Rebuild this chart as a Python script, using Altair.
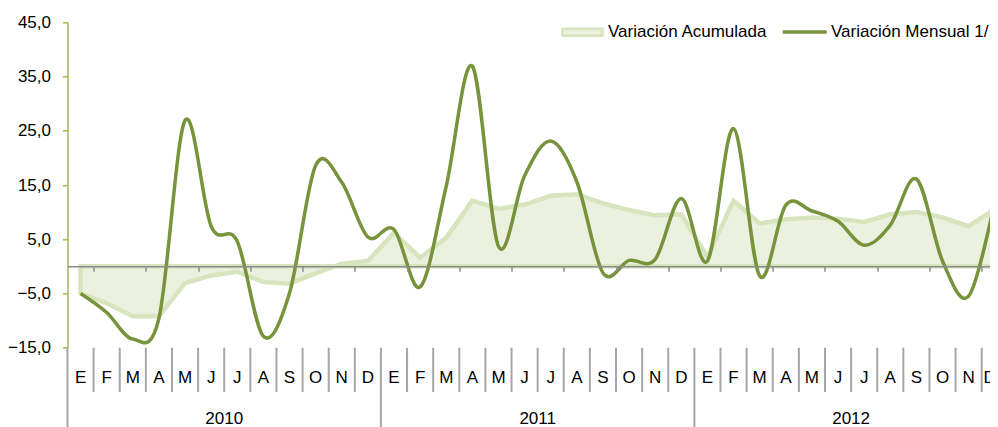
import altair as alt
import pandas as pd

month_labels = ["E", "F", "M", "A", "M", "J", "J", "A", "S", "O", "N", "D"]
years = ["2010", "2011", "2012"]

acumulada = [-5.0, -6.8, -9.2, -9.2, -3.1, -1.7, -1.0, -2.9, -3.2, -1.3, 0.5, 1.0,
             6.2, 1.6, 5.3, 12.1, 10.6, 11.4, 13.0, 13.3, 11.6, 10.4, 9.4, 9.6,
             1.7, 12.1, 7.9, 8.7, 9.0, 8.8, 8.2, 9.6, 10.0, 9.0, 7.4, 10.5]
mensual = [-5.0, -8.5, -13.4, -9.6, 26.9, 7.4, 4.6, -12.9, -4.9, 18.6, 15.5, 5.4,
           6.8, -3.8, 14.8, 36.9, 3.7, 16.7, 23.1, 15.6, -1.2, 1.1, 1.3, 12.5,
           1.0, 25.4, -1.8, 11.3, 10.2, 8.3, 3.9, 7.6, 16.1, 1.0, -5.5, 12.0]
legend_labels = ["Variación Acumulada", "Variación Mensual 1/"]

n = len(mensual)
df = pd.DataFrame({"i": list(range(n)), "acumulada": acumulada, "mensual": mensual})
month_df = pd.DataFrame({"i": list(range(n)),
                         "m": [month_labels[k % 12] for k in range(n)]})

STEP = 26.12
W = 922.5
H = 325.4
YMIN, YMAX = -15, 45
XMIN = -0.5
XMAX = XMIN + W / STEP
FONT = "Liberation Sans"
FS = 17

xscale = alt.Scale(domain=[XMIN, XMAX], nice=False, zero=False)
yscale = alt.Scale(domain=[YMIN, YMAX], nice=False, zero=False)

zero_px = (YMAX - 0) / (YMAX - YMIN) * H

year_bounds = [-0.5 + 12 * k for k in range(len(years))]
all_bounds = [i + 0.5 for i in range(n) if i + 0.5 < XMAX]
month_bounds = [b for b in all_bounds if b not in year_bounds]

xaxis = alt.Axis(values=all_bounds, labels=False, offset=zero_px - H,
                 domainColor="#8C8C8C", domainWidth=1.5, tickColor="#8C8C8C",
                 tickWidth=1.5, tickSize=5, grid=False, title=None, zindex=1)
yaxis = alt.Axis(values=[-15, -5, 5, 15, 25, 35, 45],
                 labelExpr="replace(format(datum.value, '.1f'), '.', ',')",
                 domainColor="#9BBB59", domainWidth=1.5, tickColor="#9BBB59",
                 tickWidth=1.5, tickSize=5, labelPadding=12, labelFontSize=FS,
                 labelFont=FONT, labelColor="#000000", grid=False, title=None)

area = alt.Chart(df).mark_area(fill="#EBF1DE", stroke="#D7E4BD", strokeWidth=4.5,
                               interpolate="linear").encode(
    x=alt.X("i:Q", scale=xscale, axis=xaxis),
    y=alt.Y("acumulada:Q", scale=yscale, axis=yaxis),
    y2=alt.datum(0),
)

line = alt.Chart(df).mark_line(color="#77933C", strokeWidth=3.5, interpolate="cardinal").encode(
    x=alt.X("i:Q", scale=xscale),
    y=alt.Y("mensual:Q", scale=yscale),
)

month_sep = alt.Chart(pd.DataFrame({"b": month_bounds})).mark_rule(
    color="#A6A6A6", strokeWidth=2).encode(
    x=alt.X("b:Q", scale=xscale),
    y=alt.value(H), y2=alt.value(H + 44.3),
)
year_sep = alt.Chart(pd.DataFrame({"b": year_bounds})).mark_rule(
    color="#A6A6A6", strokeWidth=2).encode(
    x=alt.X("b:Q", scale=xscale),
    y=alt.value(H), y2=alt.value(H + 90),
)

month_text = alt.Chart(month_df.iloc[:-1]).mark_text(
    fontSize=FS, font=FONT, color="#000000", baseline="alphabetic", align="center").encode(
    x=alt.X("i:Q", scale=xscale),
    y=alt.value(360.4),
    text="m:N",
)
# last month label sits at the clipped right edge (as in the original)
month_text_last = alt.Chart(month_df.iloc[[-1]]).mark_text(
    fontSize=FS, font=FONT, color="#000000", baseline="alphabetic", align="center",
    dx=-5).encode(
    x=alt.X("i:Q", scale=xscale),
    y=alt.value(360.4),
    text="m:N",
)

year_df = pd.DataFrame({"year": years, "c": [5.5 + 12 * k for k in range(len(years))]})
year_text = alt.Chart(year_df).mark_text(fontSize=FS, font=FONT, color="#000000",
                                         baseline="alphabetic", align="center").encode(
    x=alt.X("c:Q", scale=xscale),
    y=alt.value(401.7),
    text="year:N",
)

leg_df = pd.DataFrame({"label": legend_labels})
leg_swatch1 = alt.Chart(leg_df.iloc[[0]]).mark_rect(
    fill="#EBF1DE", stroke="#D7E4BD", strokeWidth=2.5).encode(
    x=alt.value(495), x2=alt.value(535), y=alt.value(6.5), y2=alt.value(13.5))
leg_swatch2 = alt.Chart(leg_df.iloc[[1]]).mark_rule(
    color="#77933C", strokeWidth=3.5).encode(
    x=alt.value(715.2), x2=alt.value(759.2), y=alt.value(9.6))
leg_text1 = alt.Chart(leg_df.iloc[[0]]).mark_text(
    fontSize=FS, font=FONT, color="#000000", align="left", baseline="middle").encode(
    x=alt.value(540.5), y=alt.value(9.9), text="label:N")
leg_text2 = alt.Chart(leg_df.iloc[[1]]).mark_text(
    fontSize=FS, font=FONT, color="#000000", align="left", baseline="middle").encode(
    x=alt.value(763.5), y=alt.value(9.9), text="label:N")

chart = alt.layer(area, line, month_sep, year_sep, month_text, month_text_last, year_text,
                  leg_swatch1, leg_swatch2, leg_text1, leg_text2).properties(
    width=W, height=H,
    padding={"left": 59.5, "top": 14.3, "right": 0, "bottom": 79.3},
    autosize=alt.AutoSizeParams(type="none"),
).configure(font=FONT).configure_view(strokeWidth=0)

chart.save("out.html", embed_options={"renderer": "svg", "actions": False})
